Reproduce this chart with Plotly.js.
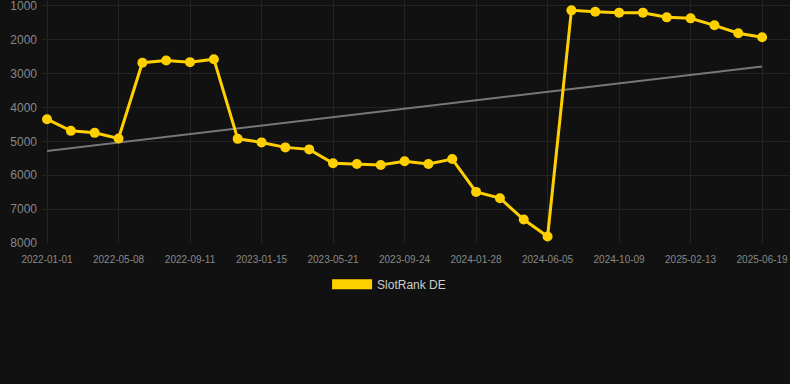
<!DOCTYPE html>
<html>
<head>
<meta charset="utf-8">
<script src="https://cdn.plot.ly/plotly-3.0.1.min.js"></script>
<style>
html,body{margin:0;padding:0;background:#111111;}
#chart{width:790px;height:384px;}
</style>
</head>
<body>
<div id="chart"></div>
<script>
const dates = ["2022-01-01","2022-02-12","2022-03-26","2022-05-08","2022-06-19","2022-07-31","2022-09-11","2022-10-23","2022-12-04","2023-01-15","2023-02-26","2023-04-09","2023-05-21","2023-07-02","2023-08-13","2023-09-24","2023-11-05","2023-12-17","2024-01-28","2024-03-12","2024-04-24","2024-06-05","2024-07-17","2024-08-28","2024-10-09","2024-11-20","2025-01-02","2025-02-13","2025-03-27","2025-05-08","2025-06-19"];
const rank = [4344,4688,4747,4912,2676,2609,2659,2571,4924,5029,5176,5235,5647,5668,5697,5588,5668,5521,6491,6676,7306,7806,1129,1168,1197,1197,1335,1365,1571,1806,1924];
const trendX = ["2022-01-01","2025-06-19"];
const trendY = [5285,2785];
const tickLabels = ["2022-01-01","2022-05-08","2022-09-11","2023-01-15","2023-05-21","2023-09-24","2024-01-28","2024-06-05","2024-10-09","2025-02-13","2025-06-19"];
const yTicks = [1000,2000,3000,4000,5000,6000,7000,8000];
const seriesName = "SlotRank DE";

const gold = "#FFD000";
const traces = [
  {x: trendX, y: trendY, type: "scatter", mode: "lines", line: {color: "#777777", width: 2}, showlegend: false, hoverinfo: "skip"},
  {x: dates, y: rank, type: "scatter", mode: "lines+markers", line: {color: gold, width: 3}, marker: {color: gold, size: 10}, showlegend: false, name: seriesName},
  {x: [null], y: [null], type: "scatter", mode: "lines", line: {color: gold, width: 11}, name: seriesName, showlegend: true}
];
const layout = {
  width: 790, height: 384,
  paper_bgcolor: "#111111", plot_bgcolor: "#111111",
  margin: {l: 42, r: 0, t: 0, b: 140.5},
  font: {family: "Liberation Sans, Arial, sans-serif", color: "#888888"},
  xaxis: {
    type: "category", categoryorder: "array", categoryarray: dates,
    range: [-0.21, 31.17],
    tickmode: "array", tickvals: tickLabels, ticktext: tickLabels,
    tickfont: {size: 10, color: "#888888"},
    ticklabelstandoff: 9,
    showgrid: true, gridcolor: "#232323", gridwidth: 1,
    zeroline: false, showline: false, ticks: ""
  },
  yaxis: {
    range: [8000, 823],
    tickmode: "array", tickvals: yTicks, ticktext: yTicks.map(String),
    tickfont: {size: 12, color: "#888888"},
    ticklabelstandoff: 4,
    ticklabeloverflow: "allow",
    showgrid: true, gridcolor: "#232323", gridwidth: 1,
    zeroline: false, showline: false, ticks: ""
  },
  showlegend: true,
  legend: {orientation: "h", x: 0.464, xref: "paper", xanchor: "center", y: -0.11, yanchor: "top", font: {size: 12, color: "#cccccc"}, itemwidth: 40, bgcolor: "rgba(0,0,0,0)"}
};
Plotly.newPlot("chart", traces, layout, {displayModeBar: false, staticPlot: true});
</script>
</body>
</html>
